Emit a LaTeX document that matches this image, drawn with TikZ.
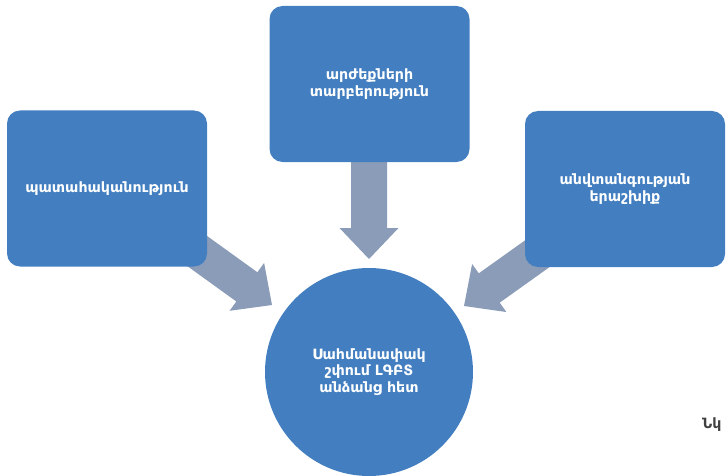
\documentclass[tikz,border=0pt]{standalone}
\usepackage{fontspec}
\setmainfont{DejaVu Sans}
\definecolor{boxblue}{RGB}{67,127,192}
\definecolor{arrowgray}{RGB}{139,156,184}
\definecolor{notegray}{RGB}{64,64,64}
\newcommand{\blockarrow}[3]{% tip, angle, length
  \fill[arrowgray, shift={(#1)}, rotate=#2]
    (0,0) -- (-31,29.5) -- (-31,18) -- (-#3,18) -- (-#3,-18)
    -- (-31,-18) -- (-31,-29.5) -- cycle;}
\begin{document}
\begin{tikzpicture}[x=1pt, y=-1pt]
        \tikzset{box/.style={rectangle, rounded corners=13pt, fill=boxblue,
            minimum width=200pt, minimum height=156pt, text=white,
            align=center, font=\bfseries\fontsize{14.2}{16.3}\selectfont},
          hub/.style={circle, fill=boxblue, minimum size=208pt, text=white,
            align=center, font=\bfseries\fontsize{14.2}{16.3}\selectfont}}
        \useasboundingbox (0,0) rectangle (728,476);
        % arrow tips
        \coordinate (tipL) at (272,305);
        \coordinate (tipT) at (369,259);
        \coordinate (tipR) at (464,306);
        \blockarrow{tipL}{-35.8}{110}
        \blockarrow{tipT}{-90}{110}
        \blockarrow{tipR}{-144.5}{110}
        % boxes
        \node[box] (chance) at (107,188.5) {պատահականություն};
        \node[box] (values) at (369.5,84) {արժեքների\\տարբերություն};
        \node[box] (safety) at (625,189) {անվտանգության\\երաշխիք};
        \node[hub] (contact) at (369,372) {Սահմանափակ\\շփում ԼԳԲՏ\\անձանց հետ};
        \node[anchor=west, text=notegray, font=\bfseries\fontsize{14.2}{16}\selectfont, inner sep=0pt] (fig) at (702,425) {Նկ};
    \end{tikzpicture}
\end{document}
